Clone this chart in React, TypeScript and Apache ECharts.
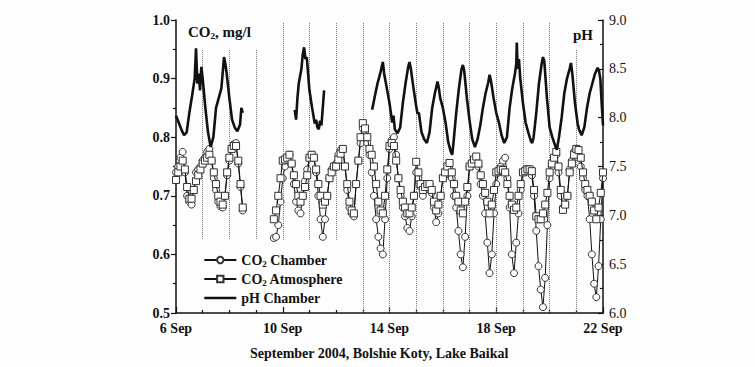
import React, { useEffect, useRef } from 'react';
import * as echarts from 'echarts';

const FONT = '"Liberation Serif", "Times New Roman", serif';

// X axis: days of September 2004
const xMin = 6;
const xMax = 22;
const xTickStep = 4;

// Vertical dotted lines (midnights) – three groups with different extents
const nightLinesUpper = [7, 8, 9];
const nightLinesMid = [10, 11, 12];
const nightLinesFull = [13, 14, 15, 16, 17, 18, 19, 20, 21];

// pH Chamber (right axis) – [day, pH]
const phSeg1: [number, number][] = [
  [6.0, 8.02], [6.1, 7.95], [6.2, 7.88], [6.3, 7.82], [6.4, 7.85], [6.5, 8.05], [6.6, 8.22],
  [6.7, 8.4], [6.75, 8.71], [6.8, 8.35], [6.85, 8.45], [6.9, 8.28], [6.95, 8.52], [7.0, 8.4],
  [7.1, 8.1], [7.2, 7.85], [7.3, 7.7], [7.4, 7.8], [7.5, 8.1], [7.6, 8.2], [7.7, 8.3],
  [7.8, 8.62], [7.85, 8.55], [7.9, 8.45], [8.0, 8.2], [8.1, 7.98], [8.2, 7.9], [8.3, 7.86],
  [8.4, 7.93], [8.45, 8.1], [8.5, 8.05],
];
const phSeg2: [number, number][] = [
  [10.45, 8.08], [10.5, 7.98], [10.55, 8.2], [10.6, 8.35], [10.7, 8.5], [10.75, 8.65],
  [10.8, 8.72], [10.85, 8.6], [10.9, 8.62], [10.95, 8.45], [11.0, 8.28], [11.1, 8.1],
  [11.2, 7.94], [11.25, 7.98], [11.3, 7.9], [11.35, 7.88], [11.4, 7.97], [11.45, 7.92],
  [11.5, 8.1], [11.55, 8.28],
];
const phSeg3: [number, number][] = [
  [13.35, 8.08], [13.45, 8.22], [13.55, 8.35], [13.65, 8.45], [13.75, 8.57], [13.8, 8.45],
  [13.9, 8.3], [14.0, 8.15], [14.05, 8.05], [14.1, 7.95], [14.15, 8.02], [14.2, 7.88],
  [14.3, 7.84], [14.4, 7.9], [14.5, 8.15], [14.6, 8.35], [14.7, 8.52], [14.75, 8.57],
  [14.8, 8.5], [14.9, 8.3], [15.0, 8.12], [15.05, 8.04], [15.1, 8.05], [15.2, 7.85],
  [15.3, 7.78], [15.4, 7.74], [15.5, 7.85], [15.6, 8.1], [15.7, 8.25], [15.8, 8.37],
  [15.85, 8.3], [15.9, 8.2], [16.0, 8.1], [16.1, 7.95], [16.2, 7.75], [16.3, 7.65],
  [16.35, 7.62], [16.4, 7.75], [16.5, 8.05], [16.6, 8.3], [16.7, 8.5], [16.75, 8.54],
  [16.8, 8.48], [16.9, 8.2], [17.0, 7.97], [17.1, 7.78], [17.2, 7.7], [17.3, 7.78],
  [17.4, 7.92], [17.5, 8.1], [17.6, 8.25], [17.7, 8.36], [17.75, 8.44], [17.8, 8.38],
  [17.9, 8.2], [18.0, 8.05], [18.1, 7.95], [18.2, 7.82], [18.3, 7.74], [18.4, 7.8],
  [18.5, 8.1], [18.6, 8.3], [18.7, 8.45], [18.75, 8.55], [18.77, 8.77], [18.8, 8.5],
  [18.85, 8.6], [18.9, 8.4], [19.0, 8.15], [19.1, 7.95], [19.2, 7.85], [19.3, 7.76],
  [19.35, 7.74], [19.4, 7.8], [19.5, 8.05], [19.6, 8.35], [19.7, 8.55], [19.75, 8.62],
  [19.8, 8.58], [19.9, 8.2], [20.0, 7.9], [20.1, 7.8], [20.2, 7.72], [20.27, 7.67],
  [20.35, 7.8], [20.45, 8.0], [20.55, 8.25], [20.65, 8.4], [20.75, 8.5], [20.8, 8.56],
  [20.85, 8.45], [20.95, 8.15], [21.05, 7.94], [21.1, 7.88], [21.2, 7.82], [21.3, 7.9],
  [21.4, 8.1], [21.5, 8.25], [21.6, 8.35], [21.7, 8.45], [21.8, 8.51], [21.85, 8.48],
  [21.9, 8.4], [21.95, 8.15], [22.0, 7.92],
];

// CO2 series sampled every 2 hours (1/12 day)
const co2PerDay = 12;
const co2StartA = 6.0;
const co2StartB = 9 + 8 / 12;

const chamberA = [
  0.74, 0.75, 0.765, 0.775, 0.74, 0.70, 0.69, 0.685, 0.71, 0.74, 0.745, 0.75,
  0.76, 0.765, 0.775, 0.78, 0.76, 0.73, 0.71, 0.69, 0.682, 0.68, 0.70, 0.735,
  0.76, 0.78, 0.788, 0.79, 0.755, 0.715, 0.675,
];
const chamberB = [
  0.628, 0.63, 0.65, 0.69,
  0.73, 0.75, 0.765, 0.77, 0.755, 0.72, 0.69, 0.675, 0.67, 0.70, 0.725, 0.745,
  0.765, 0.77, 0.765, 0.74, 0.70, 0.66, 0.63, 0.66, 0.70, 0.73, 0.745, 0.75,
  0.755, 0.77, 0.778, 0.78, 0.75, 0.71, 0.68, 0.67, 0.665, 0.72, 0.76, 0.79,
  0.815, 0.81, 0.79, 0.77, 0.74, 0.70, 0.66, 0.63, 0.61, 0.60, 0.66, 0.73,
  0.78, 0.795, 0.80, 0.77, 0.73, 0.70, 0.68, 0.665, 0.645, 0.64, 0.665, 0.70,
  0.74, 0.73, 0.715, 0.70, 0.71, 0.72, 0.72, 0.705, 0.68, 0.655, 0.67, 0.70,
  0.73, 0.735, 0.74, 0.745, 0.73, 0.70, 0.68, 0.64, 0.60, 0.578, 0.63, 0.70,
  0.75, 0.755, 0.76, 0.765, 0.75, 0.72, 0.70, 0.67, 0.62, 0.568, 0.60, 0.67,
  0.72, 0.74, 0.75, 0.76, 0.765, 0.73, 0.68, 0.60, 0.568, 0.62, 0.67, 0.71,
  0.74, 0.745, 0.745, 0.745, 0.735, 0.70, 0.64, 0.58, 0.54, 0.51, 0.56, 0.65,
  0.73, 0.75, 0.765, 0.77, 0.74, 0.70, 0.68, 0.685, 0.70, 0.745, 0.76, 0.775,
  0.78, 0.77, 0.75, 0.73, 0.71, 0.70, 0.66, 0.60, 0.55, 0.527, 0.58, 0.66,
  0.73,
];
const atmosA = [
  0.727, 0.74, 0.75, 0.76, 0.745, 0.715, 0.695, 0.695, 0.71, 0.725, 0.735, 0.745,
  0.755, 0.76, 0.765, 0.77, 0.76, 0.74, 0.72, 0.70, 0.69, 0.685, 0.70, 0.74,
  0.765, 0.78, 0.785, 0.785, 0.76, 0.72, 0.68,
];
const atmosB = [
  0.66, 0.675, 0.70, 0.73,
  0.76, 0.762, 0.765, 0.77, 0.755, 0.735, 0.72, 0.70, 0.69, 0.70, 0.715, 0.735,
  0.765, 0.77, 0.765, 0.745, 0.72, 0.70, 0.685, 0.69, 0.70, 0.73, 0.74, 0.75,
  0.75, 0.762, 0.772, 0.78, 0.75, 0.72, 0.69, 0.675, 0.67, 0.72, 0.76, 0.80,
  0.824, 0.815, 0.80, 0.78, 0.77, 0.75, 0.72, 0.69, 0.675, 0.67, 0.70, 0.745,
  0.785, 0.79, 0.785, 0.76, 0.73, 0.71, 0.69, 0.68, 0.67, 0.67, 0.68, 0.70,
  0.758, 0.74, 0.72, 0.71, 0.715, 0.72, 0.72, 0.71, 0.69, 0.675, 0.685, 0.70,
  0.73, 0.74, 0.75, 0.756, 0.74, 0.72, 0.70, 0.69, 0.675, 0.67, 0.69, 0.715,
  0.75, 0.755, 0.762, 0.767, 0.755, 0.735, 0.72, 0.705, 0.69, 0.67, 0.685, 0.71,
  0.74, 0.742, 0.745, 0.744, 0.74, 0.72, 0.70, 0.685, 0.676, 0.68, 0.70, 0.72,
  0.74, 0.742, 0.745, 0.745, 0.742, 0.71, 0.665, 0.66, 0.66, 0.67, 0.685, 0.705,
  0.74, 0.755, 0.765, 0.775, 0.75, 0.71, 0.676, 0.685, 0.70, 0.74, 0.755, 0.77,
  0.78, 0.778, 0.765, 0.74, 0.72, 0.71, 0.70, 0.69, 0.675, 0.66, 0.68, 0.705,
  0.74,
];

function toPairs(start: number, vals: number[]) {
  return vals.map((v, i) => [start + i / co2PerDay, v]);
}

const GAP = '-';

export default function App() {
  const ref = useRef<HTMLDivElement>(null);

  useEffect(() => {
    if (!ref.current) return;
    const chart = echarts.init(ref.current, undefined, { renderer: 'svg' });

    const chamberData = [...toPairs(co2StartA, chamberA), [9.0, GAP], ...toPairs(co2StartB, chamberB)];
    const atmosData = [...toPairs(co2StartA, atmosA), [9.0, GAP], ...toPairs(co2StartB, atmosB)];
    const phData = [...phSeg1, [9.5, GAP], ...phSeg2, [12.5, GAP], ...phSeg3];

    const vLine = (d: number, y1: number, y2: number) => [
      { coord: [d, y1] },
      { coord: [d, y2] },
    ];
    const markLines = [
      ...nightLinesUpper.map((d) => vLine(d, 0.949, 0.625)),
      ...nightLinesMid.map((d) => vLine(d, 0.995, 0.625)),
      ...nightLinesFull.map((d) => vLine(d, d === 21 ? 0.949 : 0.995, 0.5)),
    ];

    const labelRich = {
      b: { fontFamily: FONT, fontWeight: 'bold', fontSize: 14, color: '#111' },
      s: { fontFamily: FONT, fontWeight: 'bold', fontSize: 9, color: '#111', padding: [7, 0, 0, 0] },
    };

    chart.setOption({
      animation: false,
      backgroundColor: '#fdfdfd',
      grid: { left: 176, right: 152, top: 20, bottom: 54 },
      legend: {
        orient: 'vertical',
        left: 198,
        top: 248,
        itemWidth: 32,
        itemHeight: 8,
        itemGap: 4,
        data: [
          { name: 'CO2 Chamber' },
          { name: 'CO2 Atmosphere' },
          {
            name: 'pH Chamber',
            itemStyle: { color: 'rgba(0,0,0,0)', borderColor: 'rgba(0,0,0,0)', borderWidth: 0 },
            lineStyle: { color: '#111', width: 2.6 },
          },
        ],
        formatter: (name: string) => {
          if (name === 'CO2 Chamber') return '{b|CO}{s|2}{b| Chamber}';
          if (name === 'CO2 Atmosphere') return '{b|CO}{s|2}{b| Atmosphere}';
          return '{b|pH Chamber}';
        },
        textStyle: { rich: labelRich },
      },
      xAxis: {
        type: 'value',
        min: xMin,
        max: xMax,
        interval: xTickStep,
        splitLine: { show: false },
        axisLine: { lineStyle: { color: '#111', width: 1.5 } },
        axisTick: { inside: true, length: 6, lineStyle: { color: '#111', width: 1.2 } },
        minorTick: { show: true, splitNumber: 4, length: 3, lineStyle: { color: '#111', width: 1.2 } },
        axisLabel: {
          formatter: (v: number) => `${v} Sep`,
          fontFamily: FONT,
          fontWeight: 'bold',
          fontSize: 14,
          color: '#111',
          margin: 8,
        },
      },
      yAxis: [
        {
          type: 'value',
          min: 0.5,
          max: 1.0,
          interval: 0.1,
          position: 'left',
          splitLine: { show: false },
          axisLine: { show: true, lineStyle: { color: '#111', width: 1.5 } },
          axisTick: { show: true, inside: false, length: 5, lineStyle: { color: '#111', width: 1.2 } },
          minorTick: { show: true, splitNumber: 2, length: 3, lineStyle: { color: '#111', width: 1.2 } },
          axisLabel: {
            formatter: (v: number) => v.toFixed(1),
            fontFamily: FONT,
            fontWeight: 'bold',
            fontSize: 14,
            color: '#111',
            margin: 6,
          },
        },
        {
          type: 'value',
          min: 6,
          max: 9,
          interval: 0.5,
          position: 'right',
          splitLine: { show: false },
          axisLine: { show: true, lineStyle: { color: '#111', width: 1.5 } },
          axisTick: { show: true, inside: true, length: 5, lineStyle: { color: '#111', width: 1.2 } },
          minorTick: { show: true, splitNumber: 2, length: 3, lineStyle: { color: '#111', width: 1.2 } },
          axisLabel: {
            formatter: (v: number) => v.toFixed(1),
            fontFamily: FONT,
            fontWeight: 'normal',
            fontSize: 14,
            color: '#111',
            margin: 6,
          },
        },
      ],
      series: [
        {
          name: 'CO2 Chamber',
          type: 'line',
          yAxisIndex: 0,
          data: chamberData,
          symbol: 'circle',
          symbolSize: 7,
          showSymbol: true,
          connectNulls: false,
          lineStyle: { color: '#111', width: 1 },
          itemStyle: { color: '#fff', borderColor: '#333', borderWidth: 1 },
          z: 3,
          markLine: {
            silent: true,
            symbol: ['none', 'none'],
            label: { show: false },
            lineStyle: { type: 'dotted', color: '#777', width: 1 },
            data: markLines,
            z: 1,
          },
        },
        {
          name: 'CO2 Atmosphere',
          type: 'line',
          yAxisIndex: 0,
          data: atmosData,
          symbol: 'rect',
          symbolSize: 7,
          showSymbol: true,
          connectNulls: false,
          lineStyle: { color: '#111', width: 1 },
          itemStyle: { color: '#fff', borderColor: '#333', borderWidth: 1 },
          z: 4,
        },
        {
          name: 'pH Chamber',
          type: 'line',
          yAxisIndex: 1,
          data: phData,
          symbol: 'none',
          connectNulls: false,
          lineStyle: { color: '#111', width: 2.6 },
          itemStyle: { color: '#111' },
          z: 5,
        },
      ],
      graphic: [
        {
          type: 'text',
          left: 188,
          top: 24,
          style: {
            text: '{b|CO}{s|2}{b|, mg/l}',
            rich: {
              b: { fontFamily: FONT, fontWeight: 'bold', fontSize: 15, fill: '#111' },
              s: { fontFamily: FONT, fontWeight: 'bold', fontSize: 9, fill: '#111', padding: [8, 0, 0, 0] },
            },
          },
        },
        {
          type: 'text',
          left: 573,
          top: 27,
          style: { text: 'pH', fontFamily: FONT, fontWeight: 'bold', fontSize: 15, fill: '#111' },
        },
        {
          type: 'text',
          left: 250,
          top: 346,
          style: {
            text: 'September 2004, Bolshie Koty, Lake Baikal',
            fontFamily: FONT,
            fontWeight: 'bold',
            fontSize: 14,
            fill: '#111',
          },
        },
      ],
    });

    return () => chart.dispose();
  }, []);

  return (
    <div
      ref={ref}
      style={{ position: 'absolute', left: 0, top: 0, width: 755, height: 367 }}
    />
  );
}
